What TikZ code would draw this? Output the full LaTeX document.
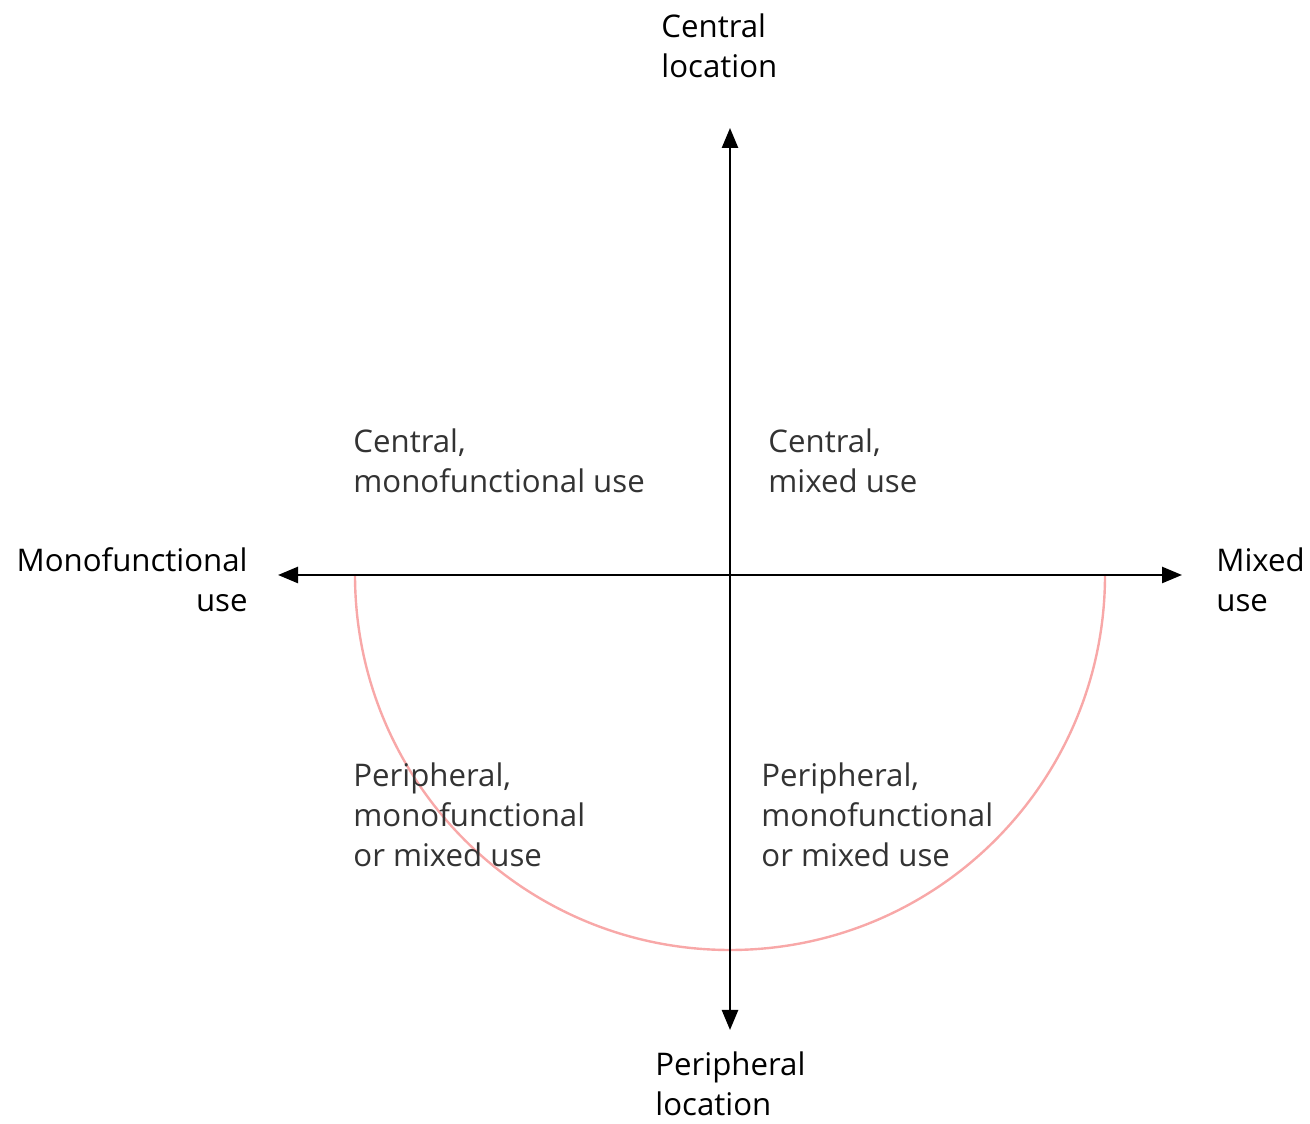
\documentclass[tikz,border=0pt]{standalone}
\usepackage{fontspec}
\setmainfont{Open Sans}
\usepackage{xcolor}
\usetikzlibrary{arrows.meta}

\definecolor{arcpink}{HTML}{F8A8A8}
\definecolor{quadgray}{HTML}{333333}

\begin{document}
\begin{tikzpicture}[
    x=0.5pt, y=0.5pt,
    axislabel/.style={inner sep=0pt, align=left, font=\fontsize{15.6}{20}\selectfont, text=black},
    quadlabel/.style={inner sep=0pt, align=left, font=\fontsize{15.6}{20}\selectfont, text=quadgray},
    axis/.style={{Triangle[length=10pt, width=8pt]}-{Triangle[length=10pt, width=8pt]}, line width=1.25pt},
    halfcircle/.style={draw=arcpink, line width=1.2pt}
]

\useasboundingbox (0,0) rectangle (1310,1123);

% Ejes
\coordinate (origin) at (730,548);
\coordinate (top) at (730,995);
\coordinate (bottom) at (730,93);
\coordinate (left) at (278,548);
\coordinate (right) at (1182,548);

% Semicirculo
\draw[halfcircle] (355,548) arc[start angle=180, end angle=360, radius=375];

\draw[axis] (bottom) -- (top);
\draw[axis] (left) -- (right);

% Etiquetas de los ejes
\node[axislabel, anchor=base west] (central) at (661,1045) {Central\\location};
\node[axislabel, anchor=base west] (peripheral) at (655,8) {Peripheral\\location};
\node[axislabel, anchor=base east, align=right] (mono) at (248,511) {Monofunctional\\use};
\node[axislabel, anchor=base west] (mixed) at (1216,511) {Mixed\\use};

% Cuadrantes
\node[quadlabel, anchor=base west] (q1) at (353,630) {Central,\\monofunctional use};
\node[quadlabel, anchor=base west] (q2) at (768,630) {Central,\\mixed use};
\node[quadlabel, anchor=base west] (q3) at (353,256) {Peripheral,\\monofunctional\\or mixed use};
\node[quadlabel, anchor=base west] (q4) at (761,256) {Peripheral,\\monofunctional\\or mixed use};

\end{tikzpicture}
\end{document}
